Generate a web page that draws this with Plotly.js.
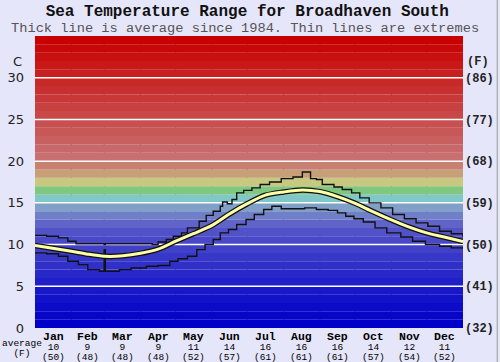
<!DOCTYPE html>
<html><head><meta charset="utf-8">
<script src="https://cdn.plot.ly/plotly-3.0.1.min.js"></script>
<style>html,body{margin:0;padding:0;background:#e6e6fa;}#chart{width:500px;height:362px;}</style>
</head><body><div id="chart"></div>
<script>
// ---- data ----
const months = ['Jan','Feb','Mar','Apr','May','Jun','Jul','Aug','Sep','Oct','Nov','Dec'];
const monthMid = [15.5,45,74.5,105,135.5,166,196.5,227.5,258,288.5,319,349.5];
const monthStart = [31,59,90,120,151,181,212,243,273,304,334];
const avgC = ['10','9','9','9','11','14','16','16','16','14','12','11'];
const avgF = ['(50)','(48)','(48)','(48)','(52)','(57)','(61)','(61)','(61)','(57)','(54)','(52)'];
const cTicks = [0,5,10,15,20,25,30];
const fTicks = [32,41,50,59,68,77,86];
const fTickText = ['(32)','(41)','(50)','(59)','(68)','(77)','(86)'];
const gridVals = [5,10,15,20,25,30];

const maxDays = [0,10,20,28,35,45,58,59,60,75,95,100,105,112,118,125,130,140,146,152,158,160,164,168,172,178,185,192,200,210,220,228,235,240,245,255,262,270,277,285,295,305,315,325,335,345,355,365];
const maxVals = [11.1,11.0,10.8,10.4,10.1,10.1,10.1,10.0,10.1,10.1,10.1,10.0,10.3,10.6,11.0,11.4,12.0,12.8,13.5,14.0,14.6,15.1,14.9,15.4,16.2,16.5,16.8,17.2,17.5,17.9,18.1,18.7,17.9,17.8,17.2,16.9,16.6,16.2,15.6,15.0,14.4,13.6,13.1,12.6,12.2,11.6,11.3,10.9];

const minDays = [0,10,20,28,37,45,55,59,60,72,82,95,105,115,122,130,138,145,152,158,165,172,180,187,195,202,210,220,230,240,250,258,265,272,280,290,300,312,322,333,345,355,365];
const minVals = [9.0,8.9,8.6,8.0,7.6,7.0,6.8,9.4,6.8,7.0,7.2,7.4,7.5,8.0,8.3,8.6,9.4,10.0,10.6,11.4,11.8,12.4,13.0,13.6,14.2,14.6,14.3,14.3,14.4,14.2,14.1,13.8,13.4,13.1,12.7,12.0,11.4,10.9,10.4,10.0,9.8,9.6,9.5];

const avgDays = [0,15,31,45,59,75,90,105,120,135,151,165,181,196,212,228,243,258,273,288,304,318,334,349,365];
const avgVals = [9.9,9.55,9.2,8.85,8.6,8.65,8.95,9.45,10.4,11.3,12.3,13.6,14.9,15.9,16.3,16.55,16.35,15.75,14.95,13.95,12.95,12.15,11.4,10.9,10.35];

const bandColors = ['#0000c8','#0606c8','#0c0cc8','#1212c8','#1818c8','#2020c8','#2828c8','#3030c8','#3838c8','#4040c8',
  '#4848c8','#5252c8','#6064c8','#7080c8','#80a0c8','#80c8c8','#80c880','#c8c880','#c8a078','#c88070',
  '#c87070','#c86868','#c86060','#c85858','#c85050','#c84848','#c84040','#c83838','#c83030','#c82828',
  '#c82020','#c81818','#c81010','#c80808','#c80000'];

// ---- build ----
const mono = 'Liberation Mono, Courier New, monospace';
const shapes = [];
bandColors.forEach((c,i)=>shapes.push({type:'rect',xref:'x',yref:'y',x0:0,x1:365,y0:i,y1:i+1,fillcolor:c,line:{width:0},layer:'below'}));
gridVals.forEach(v=>shapes.push({type:'line',xref:'x',yref:'y',x0:0,x1:365,y0:v,y1:v,line:{color:'#ffffff',width:1.5},layer:'between'}));
monthStart.forEach(d=>shapes.push({type:'line',xref:'x',yref:'paper',x0:d,x1:d,y0:0,y1:1,line:{color:'#6a6a6a',width:1},layer:'between'}));
shapes.push({type:'line',xref:'paper',yref:'paper',x0:1.08,x1:1.08,y0:-0.2,y1:1.2,line:{color:'#999999',width:1}});

const sp = (s,sz,b)=>'<span style="font-size:'+sz+'px'+(b?';font-weight:bold':'')+'">'+s+'</span>';
const annotations = [];
months.forEach((m,i)=>{
  annotations.push({x:monthMid[i],xref:'x',y:-0.003,yref:'paper',yanchor:'top',xanchor:'center',borderpad:0,showarrow:false,
    text:sp(m,11.5,true)+'<br>'+sp(avgC[i],9.5)+'<br>'+sp(avgF[i],9.5),
    font:{family:mono,size:7.6,color:'#000'}});
});
annotations.push({x:-0.03,xref:'paper',y:-0.069,yref:'paper',xanchor:'center',yanchor:'middle',borderpad:0,showarrow:false,
  text:sp('average',9.5)+'<br>'+sp('(F)',9.5),font:{family:mono,size:7.6,color:'#000'}});
annotations.push({x:-0.042,xref:'paper',y:0.914,yref:'paper',text:'C',showarrow:false,xanchor:'center',yanchor:'middle',font:{family:'DejaVu Sans',size:13,color:'#222'}});
annotations.push({x:1.035,xref:'paper',y:0.911,yref:'paper',text:'(F)',showarrow:false,xanchor:'center',yanchor:'middle',font:{family:mono,size:12,color:'#222',weight:'bold'}});
annotations.push({x:0.49,xref:'paper',y:1.025,yref:'paper',text:'Thick line is average since 1984. Thin lines are extremes',showarrow:false,xanchor:'center',yanchor:'middle',borderpad:0,font:{family:mono,size:13.7,color:'#555'}});

const traces = [
  {x:maxDays,y:maxVals,type:'scatter',mode:'lines',line:{color:'#111',width:1.4,shape:'hv'},hoverinfo:'skip'},
  {x:minDays,y:minVals,type:'scatter',mode:'lines',line:{color:'#111',width:1.4,shape:'hv'},hoverinfo:'skip'},
  {x:avgDays,y:avgVals,type:'scatter',mode:'lines',line:{color:'#111',width:5.5,shape:'spline',smoothing:0.8},hoverinfo:'skip'},
  {x:avgDays,y:avgVals,type:'scatter',mode:'lines',line:{color:'#ffffa8',width:3,shape:'spline',smoothing:0.8},hoverinfo:'skip'},
  {x:[0],y:[32],yaxis:'y2',type:'scatter',mode:'lines',line:{width:0},hoverinfo:'skip'}
];

const layout = {
  width:500,height:362,
  margin:{l:35,r:37,t:36,b:34},
  paper_bgcolor:'#e6e6fa',plot_bgcolor:'#e6e6fa',
  showlegend:false,
  title:{text:'Sea Temperature Range for Broadhaven South',x:0.496,xref:'paper',xanchor:'center',y:0.97,yref:'container',yanchor:'middle',font:{family:mono,size:16,color:'#111',weight:'bold'}},
  xaxis:{range:[0,365],showgrid:false,zeroline:false,showticklabels:false,ticks:'',fixedrange:true},
  yaxis:{range:[0,35],showgrid:false,zeroline:false,tickvals:cTicks,ticks:'',ticklabelstandoff:10,tickfont:{family:'DejaVu Sans',size:13,color:'#222'}},
  yaxis2:{range:[32,95],overlaying:'y',side:'right',showgrid:false,zeroline:false,tickvals:fTicks,ticktext:fTickText,ticks:'',ticklabelstandoff:1,tickfont:{family:mono,size:12,color:'#222',weight:'bold'}},
  shapes:shapes,annotations:annotations
};
Plotly.newPlot('chart',traces,layout,{staticPlot:true,displayModeBar:false});
</script></body></html>
